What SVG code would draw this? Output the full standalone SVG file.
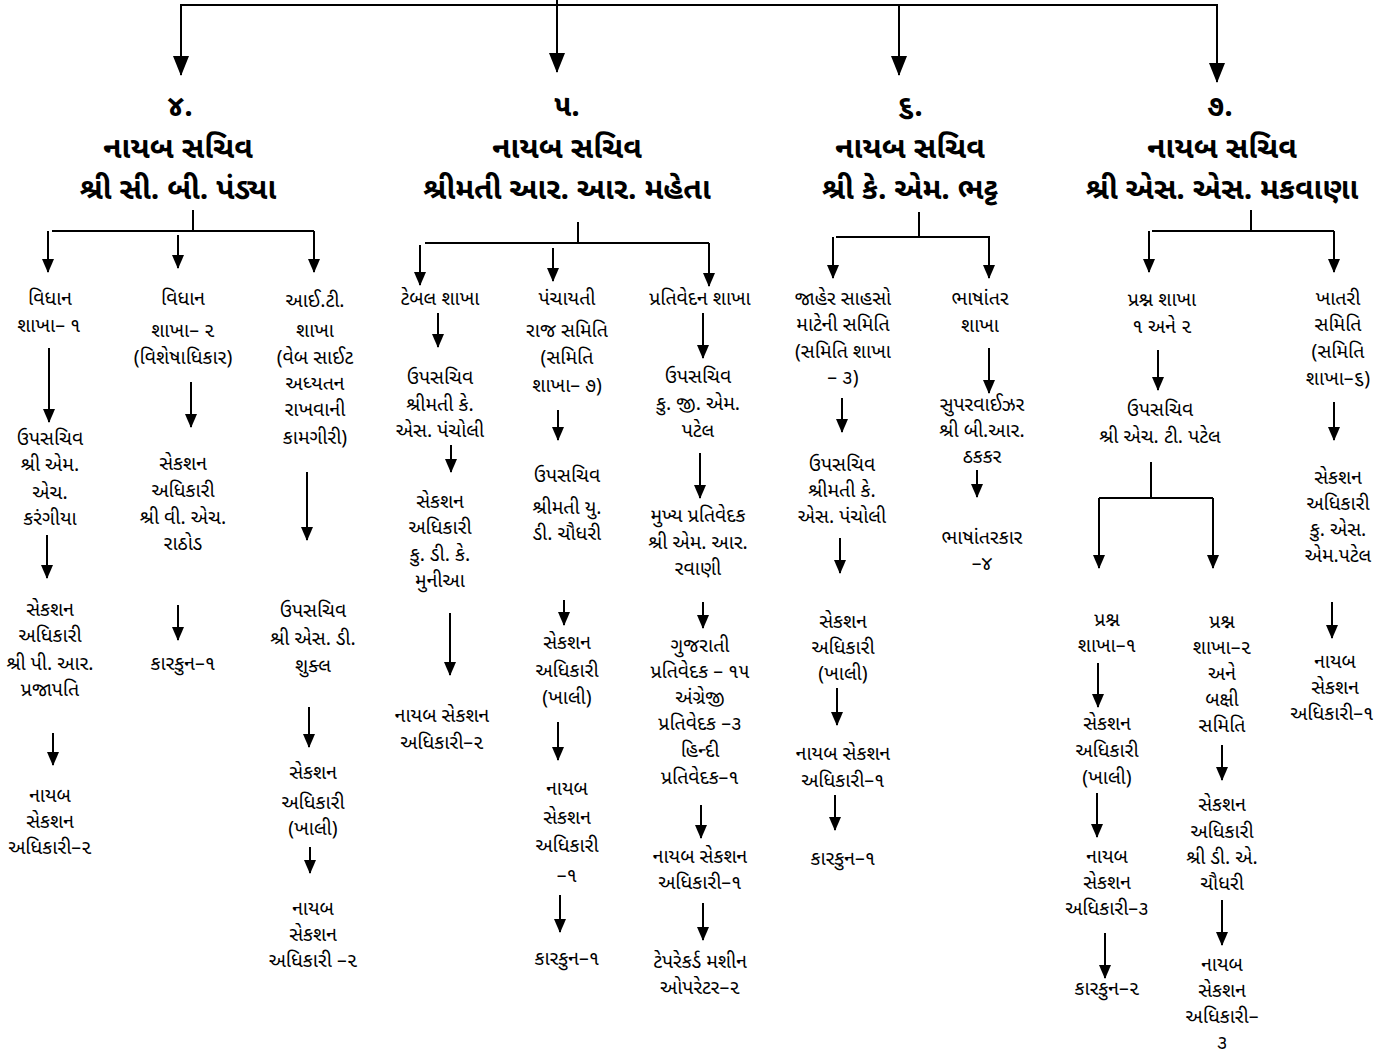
<svg xmlns="http://www.w3.org/2000/svg" width="1377" height="1056" viewBox="0 0 1377 1056">
<style>
text{font-family:"Noto Sans Gujarati","Lohit Gujarati","Shruti","Noto Sans",sans-serif;fill:#000;text-anchor:middle}
.n{font-size:19.5px}
.h{font-size:30px;font-weight:bold}
.c line,.c polyline{stroke:#000;stroke-width:2;fill:none}
.c .a{marker-end:url(#ah)}
.c .b{marker-end:url(#bh)}
</style>
<defs>
<marker id="ah" markerUnits="userSpaceOnUse" markerWidth="14" markerHeight="12" viewBox="0 0 14 12" refX="13" refY="6" orient="auto"><path d="M0,0 L14,6 L0,12 z" fill="#000"/></marker>
<marker id="bh" markerUnits="userSpaceOnUse" markerWidth="20" markerHeight="16" viewBox="0 0 20 16" refX="19" refY="8" orient="auto"><path d="M0,0 L20,8 L0,16 z" fill="#000"/></marker>
</defs>
<g class="c" id="connectors">
<line x1="180" y1="5" x2="1218" y2="5"/>
<line x1="557" y1="0" x2="557" y2="5"/>
<line class="b" x1="181" y1="5" x2="181" y2="75"/>
<line class="b" x1="557" y1="5" x2="557" y2="72"/>
<line class="b" x1="899" y1="5" x2="899" y2="75"/>
<line class="b" x1="1217" y1="5" x2="1217" y2="82"/>
<polyline points="193,210 193,231"/>
<line x1="52" y1="231" x2="314" y2="231"/>
<polyline points="578,222 578,243"/>
<line x1="425" y1="243" x2="709" y2="243"/>
<polyline points="919,212 919,237"/>
<line x1="836" y1="237" x2="990" y2="237"/>
<polyline points="1251,210 1251,231"/>
<line x1="1152" y1="231" x2="1334" y2="231"/>
<line class="a" x1="48" y1="231" x2="48" y2="272"/>
<line class="a" x1="178" y1="235" x2="178" y2="268"/>
<line class="a" x1="314" y1="231" x2="314" y2="272"/>
<line class="a" x1="49" y1="348" x2="49" y2="422"/>
<line class="a" x1="47" y1="535" x2="47" y2="578"/>
<line class="a" x1="53" y1="733" x2="53" y2="765"/>
<line class="a" x1="191" y1="382" x2="191" y2="427"/>
<line class="a" x1="178" y1="605" x2="178" y2="640"/>
<line class="a" x1="307" y1="472" x2="307" y2="540"/>
<line class="a" x1="309" y1="707" x2="309" y2="747"/>
<line class="a" x1="310" y1="847" x2="310" y2="873"/>
<line class="a" x1="420" y1="245" x2="420" y2="285"/>
<line class="a" x1="553" y1="248" x2="553" y2="281"/>
<line class="a" x1="709" y1="243" x2="709" y2="286"/>
<line class="a" x1="438" y1="313" x2="438" y2="347"/>
<line class="a" x1="451" y1="445" x2="451" y2="472"/>
<line class="a" x1="450" y1="613" x2="450" y2="675"/>
<line class="a" x1="558" y1="410" x2="558" y2="440"/>
<line class="a" x1="564" y1="600" x2="564" y2="625"/>
<line class="a" x1="558" y1="722" x2="558" y2="760"/>
<line class="a" x1="560" y1="895" x2="560" y2="932"/>
<line class="a" x1="703" y1="313" x2="703" y2="358"/>
<line class="a" x1="700" y1="453" x2="700" y2="498"/>
<line class="a" x1="703" y1="602" x2="703" y2="628"/>
<line class="a" x1="701" y1="805" x2="701" y2="838"/>
<line class="a" x1="703" y1="903" x2="703" y2="940"/>
<line class="a" x1="833" y1="237" x2="833" y2="278"/>
<line class="a" x1="989" y1="237" x2="989" y2="278"/>
<line class="a" x1="842" y1="398" x2="842" y2="432"/>
<line class="a" x1="840" y1="538" x2="840" y2="573"/>
<line class="a" x1="837" y1="688" x2="837" y2="725"/>
<line class="a" x1="835" y1="795" x2="835" y2="830"/>
<line class="a" x1="989" y1="348" x2="989" y2="393"/>
<line class="a" x1="977" y1="470" x2="977" y2="497"/>
<line class="a" x1="1149" y1="231" x2="1149" y2="272"/>
<line class="a" x1="1334" y1="231" x2="1334" y2="272"/>
<line class="a" x1="1158" y1="350" x2="1158" y2="390"/>
<line x1="1151" y1="462" x2="1151" y2="498"/>
<line x1="1099" y1="498" x2="1213" y2="498"/>
<line class="a" x1="1099" y1="498" x2="1099" y2="568"/>
<line class="a" x1="1213" y1="498" x2="1213" y2="568"/>
<line class="a" x1="1098" y1="663" x2="1098" y2="707"/>
<line class="a" x1="1097" y1="793" x2="1097" y2="837"/>
<line class="a" x1="1105" y1="933" x2="1105" y2="978"/>
<line class="a" x1="1222" y1="745" x2="1222" y2="780"/>
<line class="a" x1="1222" y1="900" x2="1222" y2="945"/>
<line class="a" x1="1334" y1="402" x2="1334" y2="440"/>
<line class="a" x1="1332" y1="602" x2="1332" y2="638"/>
</g>
<g id="dy4"><text class="h"><tspan x="180" y="116">૪.</tspan><tspan x="178" y="158">નાયબ સચિવ</tspan><tspan x="178" y="199">શ્રી સી. બી. પંડ્યા</tspan></text></g>
<g id="dy5"><text class="h"><tspan x="567" y="116">૫.</tspan><tspan x="567" y="158">નાયબ સચિવ</tspan><tspan x="567" y="199">શ્રીમતી આર. આર. મહેતા</tspan></text></g>
<g id="dy6"><text class="h"><tspan x="910" y="116">૬.</tspan><tspan x="910" y="158">નાયબ સચિવ</tspan><tspan x="910" y="199">શ્રી કે. એમ. ભટ્ટ</tspan></text></g>
<g id="dy7"><text class="h"><tspan x="1220" y="116">૭.</tspan><tspan x="1222" y="158">નાયબ સચિવ</tspan><tspan x="1222" y="199">શ્રી એસ. એસ. મકવાણા</tspan></text></g>

<g id="n4a1"><text class="n"><tspan x="50" y="305">વિધાન</tspan><tspan x="49" y="332">શાખા– ૧</tspan></text></g>
<g id="n4a2"><text class="n"><tspan x="50" y="445">ઉપસચિવ</tspan><tspan x="50" y="471">શ્રી એમ.</tspan><tspan x="50" y="499">એચ.</tspan><tspan x="50" y="525">કરંગીયા</tspan></text></g>
<g id="n4a3"><text class="n"><tspan x="50" y="616">સેકશન</tspan><tspan x="50" y="642">અધિકારી</tspan><tspan x="50" y="670">શ્રી પી. આર.</tspan><tspan x="50" y="696">પ્રજાપતિ</tspan></text></g>
<g id="n4a4"><text class="n"><tspan x="50" y="802">નાયબ</tspan><tspan x="50" y="828">સેકશન</tspan><tspan x="50" y="854">અધિકારી–૨</tspan></text></g>

<g id="n4b1"><text class="n"><tspan x="183" y="305">વિધાન</tspan><tspan x="183" y="337">શાખા– ૨</tspan><tspan x="183" y="364">(વિશેષાધિકાર)</tspan></text></g>
<g id="n4b2"><text class="n"><tspan x="183" y="470">સેકશન</tspan><tspan x="183" y="497">અધિકારી</tspan><tspan x="183" y="524">શ્રી વી. એચ.</tspan><tspan x="183" y="550">રાઠોડ</tspan></text></g>
<g id="n4b3"><text class="n"><tspan x="183" y="670">કારકુન–૧</tspan></text></g>

<g id="n4c1"><text class="n"><tspan x="315" y="307">આઈ.ટી.</tspan><tspan x="315" y="337">શાખા</tspan><tspan x="315" y="364">(વેબ સાઈટ</tspan><tspan x="315" y="390">અધ્યતન</tspan><tspan x="315" y="416">રાખવાની</tspan><tspan x="315" y="444">કામગીરી)</tspan></text></g>
<g id="n4c2"><text class="n"><tspan x="313" y="617">ઉપસચિવ</tspan><tspan x="313" y="645">શ્રી એસ. ડી.</tspan><tspan x="313" y="672">શુક્લ</tspan></text></g>
<g id="n4c3"><text class="n"><tspan x="313" y="779">સેકશન</tspan><tspan x="313" y="809">અધિકારી</tspan><tspan x="313" y="835">(ખાલી)</tspan></text></g>
<g id="n4c4"><text class="n"><tspan x="313" y="915">નાયબ</tspan><tspan x="313" y="941">સેકશન</tspan><tspan x="313" y="967">અધિકારી –૨</tspan></text></g>

<g id="n5a1"><text class="n"><tspan x="440" y="305">ટેબલ શાખા</tspan></text></g>
<g id="n5a2"><text class="n"><tspan x="440" y="384">ઉપસચિવ</tspan><tspan x="440" y="411">શ્રીમતી કે.</tspan><tspan x="440" y="437">એસ. પંચોલી</tspan></text></g>
<g id="n5a3"><text class="n"><tspan x="440" y="508">સેકશન</tspan><tspan x="440" y="534">અધિકારી</tspan><tspan x="440" y="561">કુ. ડી. કે.</tspan><tspan x="440" y="587">મુનીઆ</tspan></text></g>
<g id="n5a4"><text class="n"><tspan x="442" y="722">નાયબ સેકશન</tspan><tspan x="442" y="749">અધિકારી–૨</tspan></text></g>

<g id="n5b1"><text class="n"><tspan x="567" y="305">પંચાયતી</tspan><tspan x="567" y="337">રાજ સમિતિ</tspan><tspan x="567" y="364">(સમિતિ</tspan><tspan x="567" y="392">શાખા– ૭)</tspan></text></g>
<g id="n5b2"><text class="n"><tspan x="567" y="482">ઉપસચિવ</tspan><tspan x="567" y="514">શ્રીમતી યુ.</tspan><tspan x="567" y="540">ડી. ચૌધરી</tspan></text></g>
<g id="n5b3"><text class="n"><tspan x="567" y="649">સેકશન</tspan><tspan x="567" y="677">અધિકારી</tspan><tspan x="567" y="704">(ખાલી)</tspan></text></g>
<g id="n5b4"><text class="n"><tspan x="567" y="795">નાયબ</tspan><tspan x="567" y="824">સેકશન</tspan><tspan x="567" y="852">અધિકારી</tspan><tspan x="567" y="882">–૧</tspan></text></g>
<g id="n5b5"><text class="n"><tspan x="567" y="965">કારકુન–૧</tspan></text></g>

<g id="n5c1"><text class="n"><tspan x="700" y="305">પ્રતિવેદન શાખા</tspan></text></g>
<g id="n5c2"><text class="n"><tspan x="698" y="383">ઉપસચિવ</tspan><tspan x="698" y="410">કુ. જી. એમ.</tspan><tspan x="698" y="437">પટેલ</tspan></text></g>
<g id="n5c3"><text class="n"><tspan x="698" y="522">મુખ્ય પ્રતિવેદક</tspan><tspan x="698" y="549">શ્રી એમ. આર.</tspan><tspan x="698" y="575">રવાણી</tspan></text></g>
<g id="n5c4"><text class="n"><tspan x="700" y="652">ગુજરાતી</tspan><tspan x="700" y="678">પ્રતિવેદક – ૧૫</tspan><tspan x="700" y="704">અંગ્રેજી</tspan><tspan x="700" y="730">પ્રતિવેદક –૩</tspan><tspan x="700" y="757">હિન્દી</tspan><tspan x="700" y="784">પ્રતિવેદક–૧</tspan></text></g>
<g id="n5c5"><text class="n"><tspan x="700" y="863">નાયબ સેકશન</tspan><tspan x="700" y="889">અધિકારી–૧</tspan></text></g>
<g id="n5c6"><text class="n"><tspan x="700" y="968">ટેપરેકર્ડ મશીન</tspan><tspan x="700" y="994">ઓપરેટર–૨</tspan></text></g>

<g id="n6a1"><text class="n"><tspan x="843" y="305">જાહેર સાહસો</tspan><tspan x="843" y="331">માટેની સમિતિ</tspan><tspan x="843" y="358">(સમિતિ શાખા</tspan><tspan x="843" y="384">– ૩)</tspan></text></g>
<g id="n6a2"><text class="n"><tspan x="842" y="471">ઉપસચિવ</tspan><tspan x="842" y="497">શ્રીમતી કે.</tspan><tspan x="842" y="523">એસ. પંચોલી</tspan></text></g>
<g id="n6a3"><text class="n"><tspan x="843" y="628">સેકશન</tspan><tspan x="843" y="654">અધિકારી</tspan><tspan x="843" y="680">(ખાલી)</tspan></text></g>
<g id="n6a4"><text class="n"><tspan x="843" y="760">નાયબ સેકશન</tspan><tspan x="843" y="787">અધિકારી–૧</tspan></text></g>
<g id="n6a5"><text class="n"><tspan x="843" y="865">કારકુન–૧</tspan></text></g>

<g id="n6b1"><text class="n"><tspan x="980" y="305">ભાષાંતર</tspan><tspan x="980" y="332">શાખા</tspan></text></g>
<g id="n6b2"><text class="n"><tspan x="982" y="411">સુપરવાઈઝર</tspan><tspan x="982" y="437">શ્રી બી.આર.</tspan><tspan x="982" y="463">ઠકકર</tspan></text></g>
<g id="n6b3"><text class="n"><tspan x="982" y="544">ભાષાંતરકાર</tspan><tspan x="982" y="570">–૪</tspan></text></g>

<g id="n7a1"><text class="n"><tspan x="1162" y="306">પ્રશ્ન શાખા</tspan><tspan x="1162" y="333">૧ અને ૨</tspan></text></g>
<g id="n7a2"><text class="n"><tspan x="1160" y="416">ઉપસચિવ</tspan><tspan x="1160" y="443">શ્રી એચ. ટી. પટેલ</tspan></text></g>
<g id="n7b1"><text class="n"><tspan x="1107" y="626">પ્રશ્ન</tspan><tspan x="1107" y="652">શાખા–૧</tspan></text></g>
<g id="n7b2"><text class="n"><tspan x="1107" y="730">સેકશન</tspan><tspan x="1107" y="757">અધિકારી</tspan><tspan x="1107" y="784">(ખાલી)</tspan></text></g>
<g id="n7b3"><text class="n"><tspan x="1107" y="863">નાયબ</tspan><tspan x="1107" y="889">સેકશન</tspan><tspan x="1107" y="915">અધિકારી–૩</tspan></text></g>
<g id="n7b4"><text class="n"><tspan x="1107" y="995">કારકુન–૨</tspan></text></g>
<g id="n7c1"><text class="n"><tspan x="1222" y="628">પ્રશ્ન</tspan><tspan x="1222" y="654">શાખા–૨</tspan><tspan x="1222" y="680">અને</tspan><tspan x="1222" y="706">બક્ષી</tspan><tspan x="1222" y="732">સમિતિ</tspan></text></g>
<g id="n7c2"><text class="n"><tspan x="1222" y="811">સેકશન</tspan><tspan x="1222" y="838">અધિકારી</tspan><tspan x="1222" y="864">શ્રી ડી. એ.</tspan><tspan x="1222" y="890">ચૌધરી</tspan></text></g>
<g id="n7c3"><text class="n"><tspan x="1222" y="971">નાયબ</tspan><tspan x="1222" y="997">સેકશન</tspan><tspan x="1222" y="1023">અધિકારી–</tspan><tspan x="1222" y="1049">૩</tspan></text></g>
<g id="n7d1"><text class="n"><tspan x="1338" y="305">ખાતરી</tspan><tspan x="1338" y="331">સમિતિ</tspan><tspan x="1338" y="358">(સમિતિ</tspan><tspan x="1338" y="385">શાખા–૬)</tspan></text></g>
<g id="n7d2"><text class="n"><tspan x="1338" y="484">સેકશન</tspan><tspan x="1338" y="510">અધિકારી</tspan><tspan x="1338" y="536">કુ. એસ.</tspan><tspan x="1338" y="562">એમ.પટેલ</tspan></text></g>
<g id="n7d3"><text class="n"><tspan x="1335" y="668">નાયબ</tspan><tspan x="1335" y="694">સેકશન</tspan><tspan x="1332" y="720">અધિકારી–૧</tspan></text></g>
</svg>
